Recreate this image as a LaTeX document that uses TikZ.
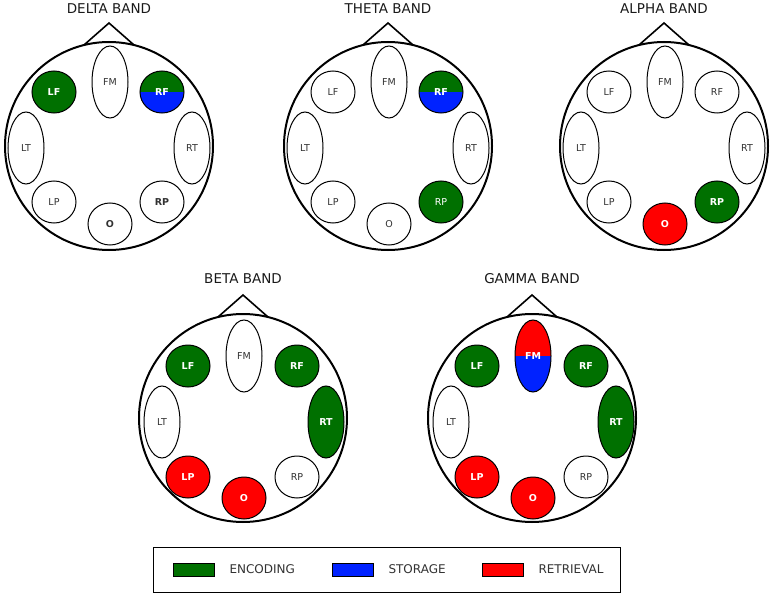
\documentclass[tikz,border=0pt]{standalone}
\usepackage{fontspec}
\setmainfont{DejaVu Sans}
\usepackage{tikz}
\usetikzlibrary{shapes.geometric}

\definecolor{encgreen}{RGB}{0,112,0}
\definecolor{storblue}{RGB}{0,34,255}
\definecolor{retred}{RGB}{255,0,0}
\definecolor{labgray}{RGB}{50,50,50}

\newcommand\lobefont{\fontsize{9.5}{11}\selectfont}

\begin{document}
\begin{tikzpicture}[x=1pt, y=-1pt,
    head/.style={draw, circle, line width=2pt, minimum size=208, inner sep=0pt},
    nose/.style={line width=1.6pt, line join=miter},
    title/.style={font=\fontsize{13.5}{15}\selectfont, text=black!90},
    lobe/.style={draw, ellipse, line width=1pt, inner sep=0pt, fill=white,
                 font=\lobefont, text=labgray},
    rnd/.style={minimum width=44, minimum height=42},
    tall/.style={minimum width=36, minimum height=72},
    plain/.style={},
    bld/.style={font=\lobefont\bfseries},
    enc/.style={fill=encgreen, text=white, font=\lobefont\bfseries},
    encn/.style={fill=encgreen, text=white},
    ret/.style={fill=retred, text=white, font=\lobefont\bfseries},
    % half green / half blue, half red / half blue
    gbsplit/.style={text=white, font=\lobefont\bfseries, path picture={
        \fill[encgreen] (path picture bounding box.north west) rectangle (path picture bounding box.east);
        \fill[storblue] (path picture bounding box.west) rectangle (path picture bounding box.south east);}},
    rbsplit/.style={text=white, font=\lobefont\bfseries, path picture={
        \fill[retred] (path picture bounding box.north west) rectangle (path picture bounding box.east);
        \fill[storblue] (path picture bounding box.west) rectangle (path picture bounding box.south east);}},
    swatch/.style={draw, line width=0.8pt, minimum width=41, minimum height=13, inner sep=0pt},
    legtext/.style={anchor=west, font=\fontsize{12}{14}\selectfont, text=labgray}]

    \useasboundingbox (0,0) rectangle (773,596);

    % DELTA
    \begin{scope}[shift={(109,146)}]
        \node[title] (dtitle) at (0,-137) {DELTA BAND};
        \node[head] (dhead) at (0,0) {};
        \draw[nose] (-25,-101) -- (0,-123) -- (25,-101);
        \foreach \n/\px/\py/\sh/\st in {LF/-55/-54/rnd/enc, FM/1/-64/tall/plain, RF/53/-54/rnd/gbsplit,
                LT/-83/2/tall/plain, RT/83/2/tall/plain, LP/-55/56/rnd/plain, RP/53/56/rnd/bld, O/1/78/rnd/bld}
            \node[lobe, \sh, \st] (d\n) at (\px,\py) {\n};
    \end{scope}

    % THETA
    \begin{scope}[shift={(388,146)}]
        \node[title] (ttitle) at (0,-137) {THETA BAND};
        \node[head] (thead) at (0,0) {};
        \draw[nose] (-25,-101) -- (0,-123) -- (25,-101);
        \foreach \n/\px/\py/\sh/\st in {LF/-55/-54/rnd/plain, FM/1/-64/tall/plain, RF/53/-54/rnd/gbsplit,
                LT/-83/2/tall/plain, RT/83/2/tall/plain, LP/-55/56/rnd/plain, RP/53/56/rnd/encn, O/1/78/rnd/plain}
            \node[lobe, \sh, \st] (t\n) at (\px,\py) {\n};
    \end{scope}

    % ALPHA
    \begin{scope}[shift={(664,146)}]
        \node[title] (atitle) at (0,-137) {ALPHA BAND};
        \node[head] (ahead) at (0,0) {};
        \draw[nose] (-25,-101) -- (0,-123) -- (25,-101);
        \foreach \n/\px/\py/\sh/\st in {LF/-55/-54/rnd/plain, FM/1/-64/tall/plain, RF/53/-54/rnd/plain,
                LT/-83/2/tall/plain, RT/83/2/tall/plain, LP/-55/56/rnd/plain, RP/53/56/rnd/enc, O/1/78/rnd/ret}
            \node[lobe, \sh, \st] (a\n) at (\px,\py) {\n};
    \end{scope}

    % BETA
    \begin{scope}[shift={(243,418)}]
        \node[title] (btitle) at (0,-139) {BETA BAND};
        \node[head] (bhead) at (0,0) {};
        \draw[nose] (-25,-101) -- (0,-123) -- (25,-101);
        \foreach \n/\px/\py/\sh/\st in {LF/-55/-52/rnd/enc, FM/1/-62/tall/plain, RF/54/-52/rnd/enc,
                LT/-81/4/tall/plain, RT/83/4/tall/enc, LP/-55/59/rnd/ret, RP/54/59/rnd/plain, O/1/80/rnd/ret}
            \node[lobe, \sh, \st] (b\n) at (\px,\py) {\n};
    \end{scope}

    % GAMMA
    \begin{scope}[shift={(532,418)}]
        \node[title] (gtitle) at (0,-139) {GAMMA BAND};
        \node[head] (ghead) at (0,0) {};
        \draw[nose] (-25,-101) -- (0,-123) -- (25,-101);
        \foreach \n/\px/\py/\sh/\st in {LF/-55/-52/rnd/enc, FM/1/-62/tall/rbsplit, RF/54/-52/rnd/enc,
                LT/-81/4/tall/plain, RT/84/4/tall/enc, LP/-55/59/rnd/ret, RP/54/59/rnd/plain, O/1/80/rnd/ret}
            \node[lobe, \sh, \st] (g\n) at (\px,\py) {\n};
    \end{scope}

    % legend
    \draw[line width=1pt] (153,547) rectangle (620,592);
    \node[swatch, fill=encgreen] (encbox) at (193.5,569.5) {};
    \node[legtext] (enctext) at (226,569.5) {ENCODING};
    \node[swatch, fill=storblue] (storbox) at (352.5,569.5) {};
    \node[legtext] (stortext) at (385,569.5) {STORAGE};
    \node[swatch, fill=retred] (retbox) at (502.5,569.5) {};
    \node[legtext] (rettext) at (535,569.5) {RETRIEVAL};
\end{tikzpicture}
\end{document}
